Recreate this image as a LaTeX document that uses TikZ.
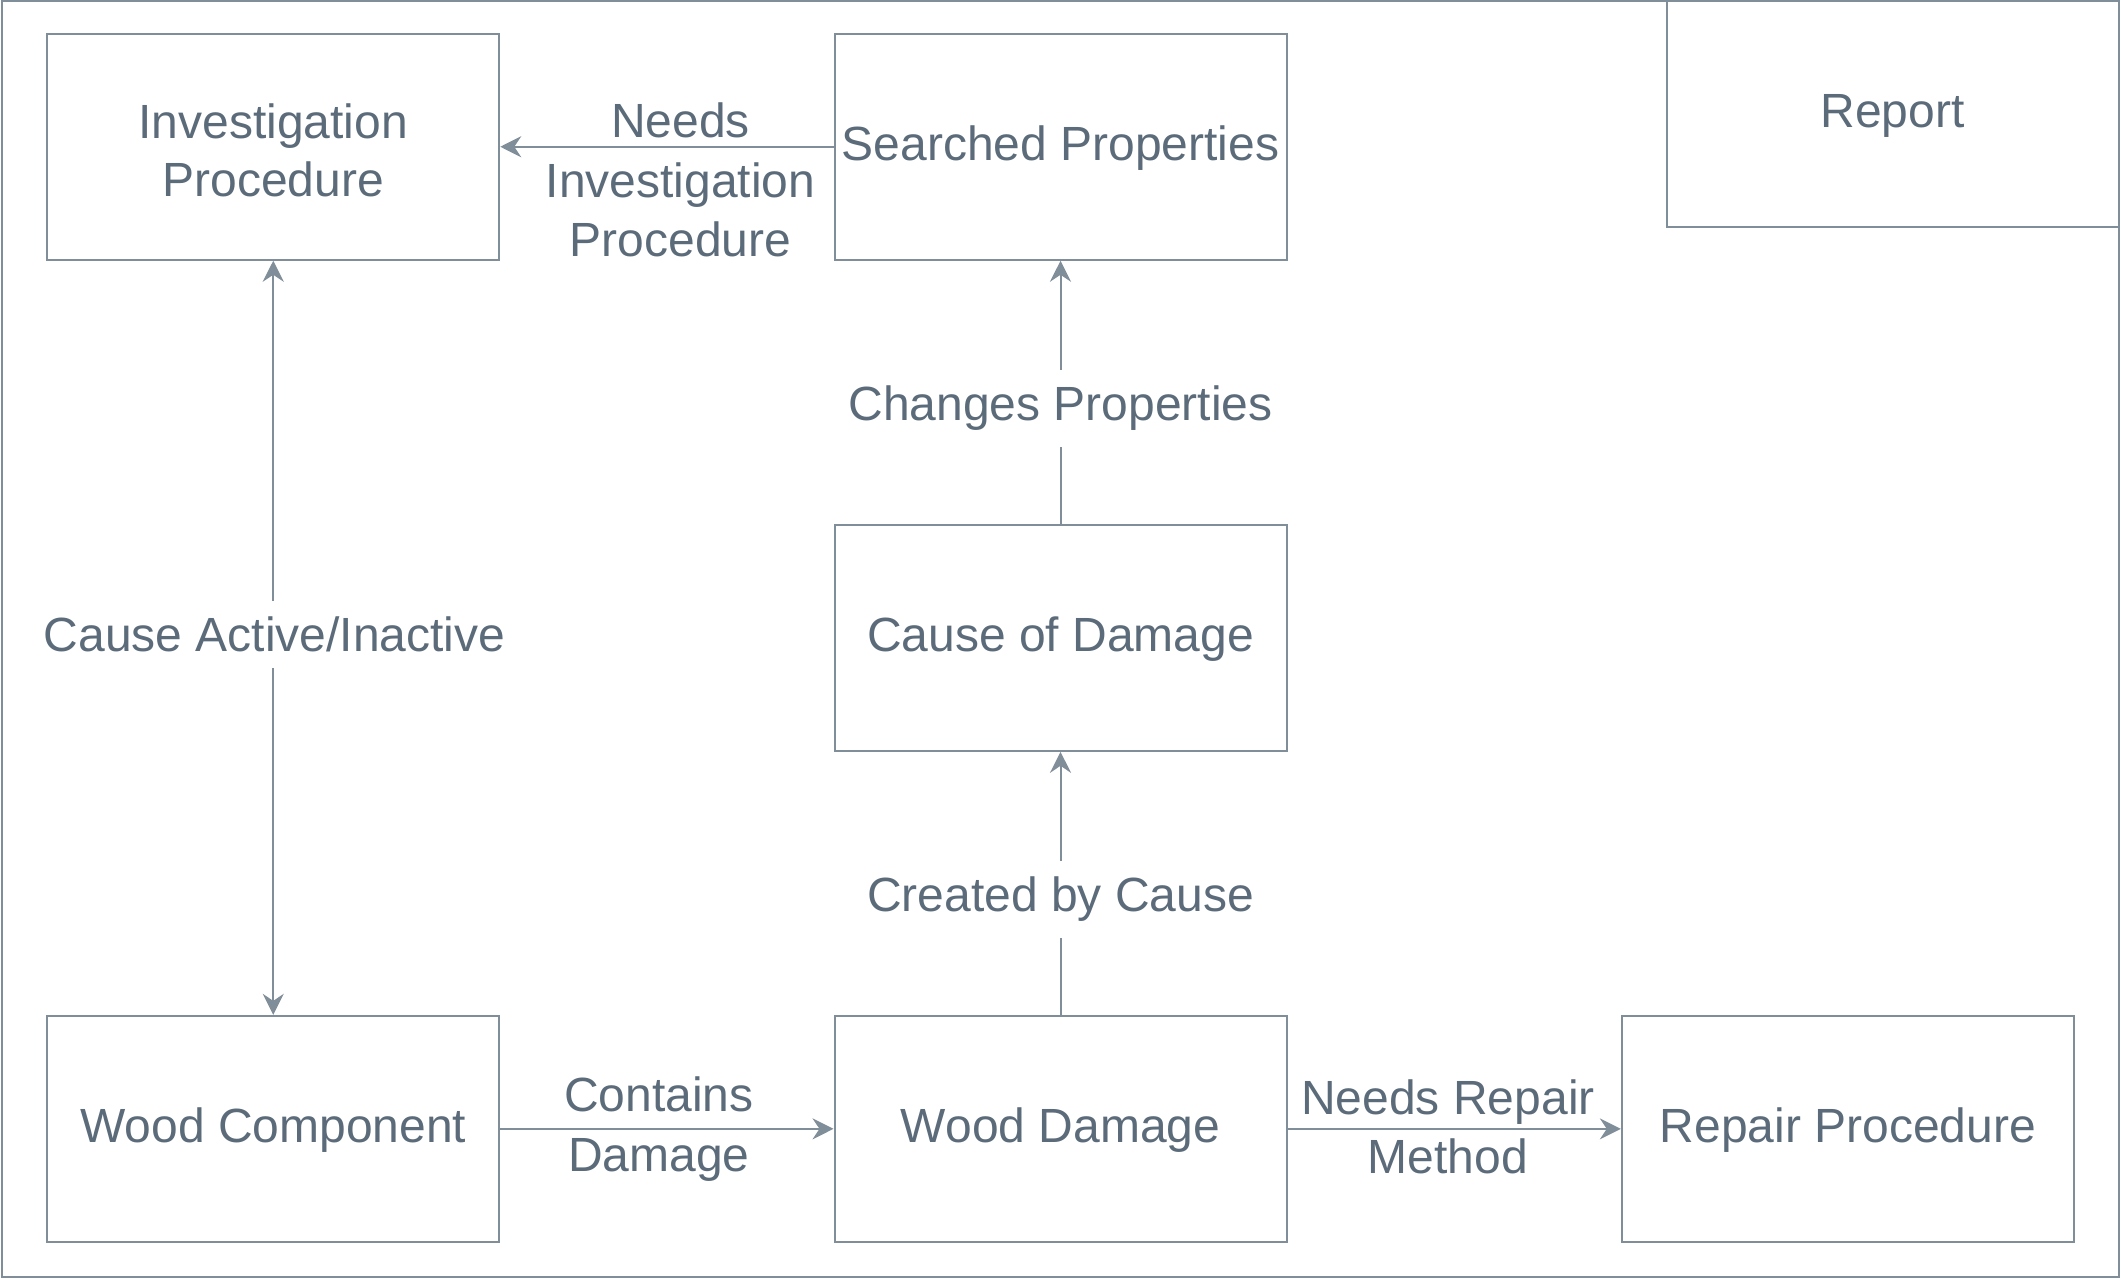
\documentclass[tikz,border=0pt]{standalone}
\usepackage{fontspec}
\setmainfont{Liberation Sans}
\usetikzlibrary{arrows.meta}
\definecolor{linec}{RGB}{128,142,153}
\definecolor{textc}{RGB}{91,107,122}
\newcommand{\bxtext}[2][-0.7pt]{\raisebox{#1}[\height][\depth]{\begin{tabular}{@{}c@{}}#2\end{tabular}}}
\begin{document}
\begin{tikzpicture}[x=0.5pt,y=-0.5pt,
  box/.style={draw=linec, line width=1pt, rectangle, minimum width=226pt, minimum height=113pt,
    inner sep=0pt, align=center, text=textc, font=\fontsize{24}{29.75}\selectfont},
  lbl/.style={inner sep=0pt, align=center, text=textc, font=\fontsize{24}{29.75}\selectfont},
  lblw/.style={lbl, fill=white, inner xsep=2pt, inner ysep=8pt},
  conn/.style={draw=linec, line width=1pt},
  tip/.style={-{Stealth[length=10.5pt,width=10.5pt,inset=3.5pt]}},
  bitip/.style={{Stealth[length=10.5pt,width=10.5pt,inset=3.5pt]}-{Stealth[length=10.5pt,width=10.5pt,inset=3.5pt]}}
]
\useasboundingbox (0,0) rectangle (2121,1279);
\draw[linec, line width=1pt] (1.5,1.5) rectangle (2118.5,1277);

\node[box] (ip) at (273.25,146.75) {\bxtext[-4.4pt]{Investigation\\[-0.6pt]Procedure}};
\node[box] (sp) at (1060.5,146.75) {\bxtext{Searched Properties}};
\node[box] (rep) at (1892.5,114.3) {\bxtext{Report}};
\node[box] (cod) at (1060.5,637.8) {\bxtext{Cause of Damage}};
\node[box] (wc) at (273.25,1128.85) {\bxtext{Wood Component}};
\node[box] (wd) at (1060.5,1128.85) {\bxtext{Wood Damage}};
\node[box] (rp) at (1847.8,1128.85) {\bxtext{Repair Procedure}};

\draw[conn,tip] (sp.west) -- (ip.east);
\node[lbl] (l1) at (680.6,179.9) {Needs\\Investigation\\Procedure};

\draw[conn,tip] (cod.north) -- (sp.south);
\node[lblw] (l2) at (1060.5,408.5) {Changes Properties};

\draw[conn,bitip] (wc.north) -- (ip.south);
\node[lblw] (l3) at (274.6,634.4) {Cause Active/Inactive};

\draw[conn,tip] (wd.north) -- (cod.south);
\node[lblw] (l4) at (1060.5,899.5) {Created by Cause};

\draw[conn,tip] (wc.east) -- (wd.west);
\node[lbl] (l5) at (658.8,1129) {Contains\\Damage};

\draw[conn,tip] (wd.east) -- (rp.west);
\node[lbl] (l6) at (1448,1127) {Needs Repair\\Method};
\end{tikzpicture}
\end{document}
